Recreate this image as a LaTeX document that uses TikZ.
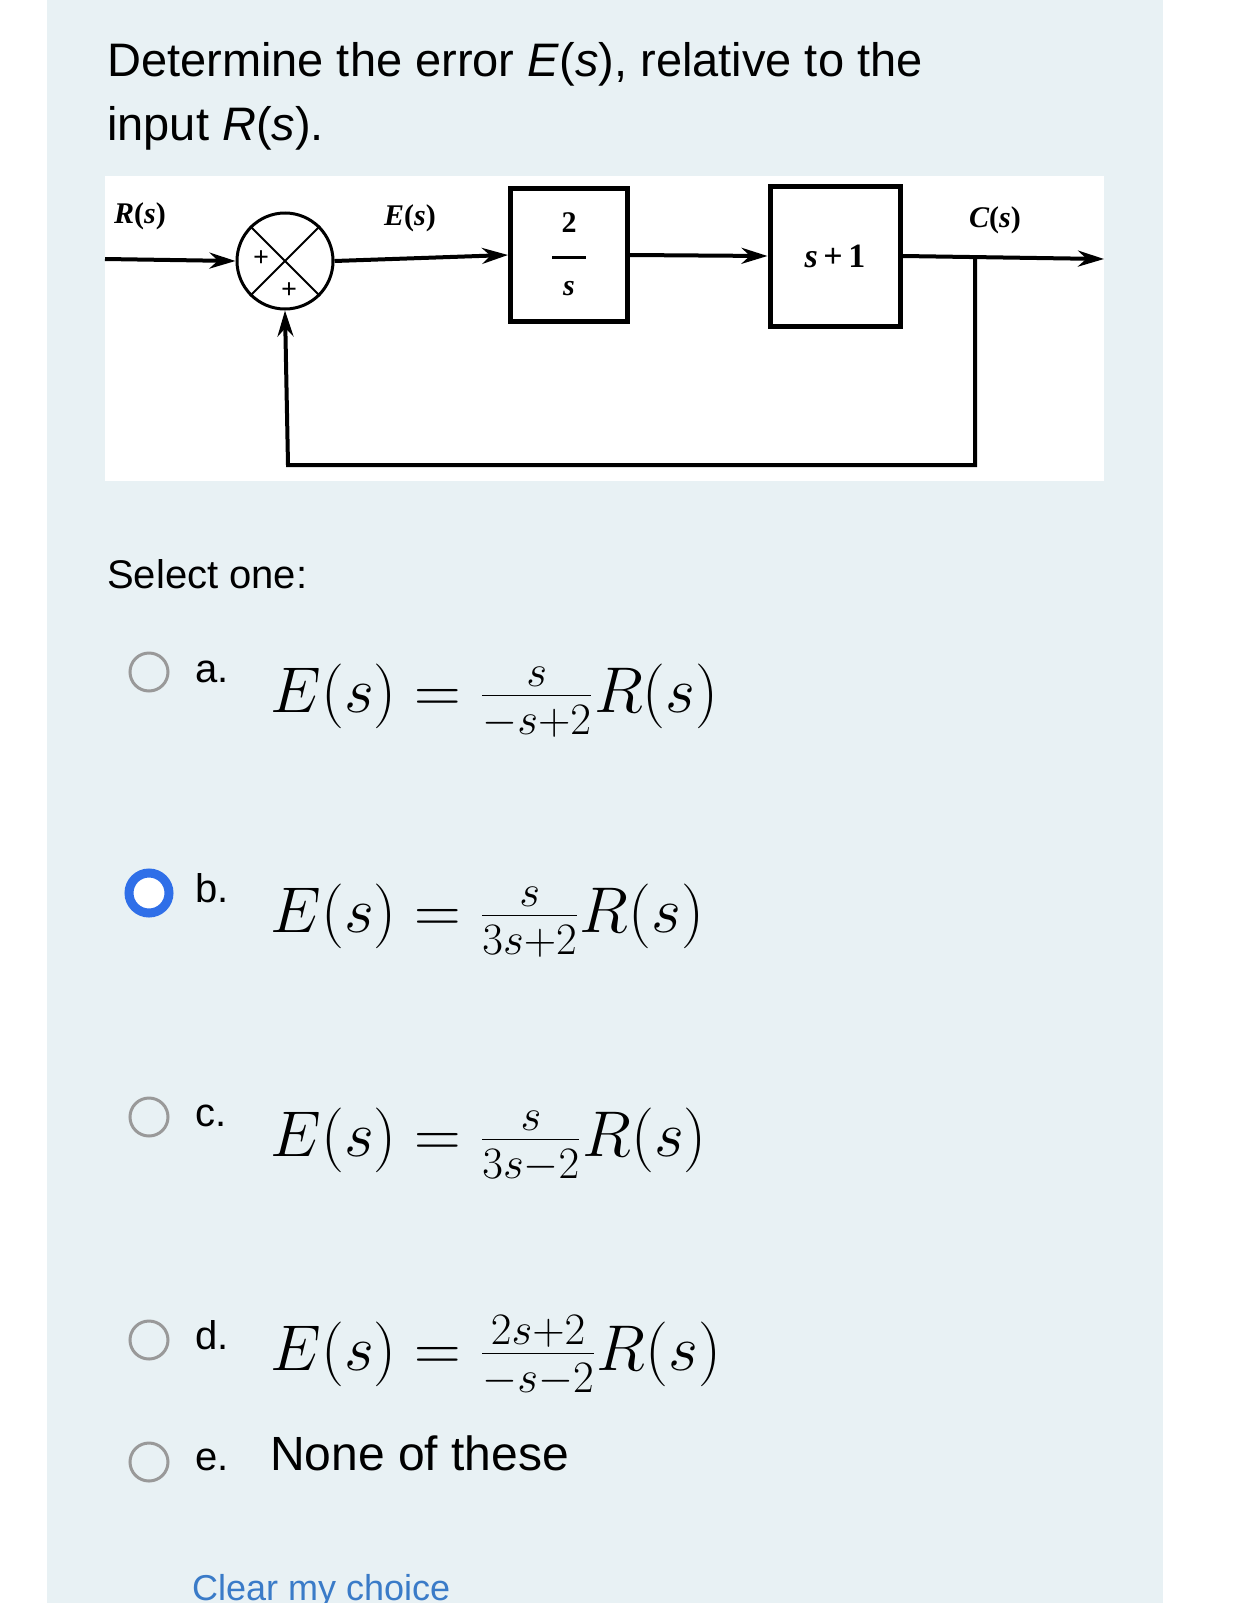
\documentclass[tikz,border=0pt]{standalone}
\usepackage{fontspec}
\setmainfont{Liberation Sans}
\newfontfamily\dserif{Liberation Serif}
\usetikzlibrary{arrows.meta}
\definecolor{panel}{HTML}{E8F1F4}
\definecolor{linkblue}{HTML}{3A7BC8}
\definecolor{selblue}{HTML}{2F6FE8}
\tikzset{
  wire/.style={line width=4pt},
  sig/.style={wire,-{Stealth[length=26pt,width=16pt]}},
  blk/.style={draw,line width=5pt,inner sep=0pt},
  dlab/.style={font=\dserif\bfseries\fontsize{30}{32}\selectfont,inner sep=0pt},
  radio/.style={circle,draw=gray!80,line width=3pt,minimum size=38pt,inner sep=0pt},
  opt/.style={anchor=base west,inner sep=0pt,font=\fontsize{40}{44}\selectfont},
  eq/.style={anchor=base west,inner sep=0pt,scale=2.6,transform shape,font=\fontsize{24}{28}\selectfont}
}
\begin{document}
\begin{tikzpicture}[x=1pt,y=-1pt]
\useasboundingbox (0,0) rectangle (1242,1603);
\clip (0,0) rectangle (1242,1603);
\fill[white] (0,0) rectangle (1242,1603);
\fill[panel] (47,0) rectangle (1163,1603);
\node[anchor=base west,inner sep=0pt,font=\fontsize{47}{60}\selectfont] (q1) at (107,77) {Determine the error \textit{E}(\textit{s}), relative to the};
\node[anchor=base west,inner sep=0pt,font=\fontsize{47}{60}\selectfont] (q2) at (107,140) {input \textit{R}(\textit{s}).};
% diagram
\fill[white] (105,176) rectangle (1104,481);
\coordinate (in) at (105,259);
\node[circle,draw,line width=3pt,minimum size=96pt,inner sep=0pt] (sum) at (285,261) {};
\draw[line width=2pt] (sum.north west) -- (sum.south east) (sum.north east) -- (sum.south west);
\node[font=\dserif\bfseries\fontsize{28}{28}\selectfont,inner sep=0pt] at (261,259) {+};
\node[font=\dserif\bfseries\fontsize{28}{28}\selectfont,inner sep=0pt] at (289,291) {+};
\node[blk,minimum width=117pt,minimum height=133pt] (g1) at (569,255) {};
\node[dlab] at (569,223) {2};
\draw[line width=3pt] (552,257) -- (586,257);
\node[dlab] at (569,289) {\itshape s};
\node[blk,minimum width=130pt,minimum height=140pt,font=\dserif\bfseries\fontsize{34}{34}\selectfont] (g2) at (835,256) {\itshape s\upshape\,+\,1};
\coordinate (out) at (1104,259);
\coordinate (br) at (975,259);
\coordinate (c1) at (975,465);
\coordinate (c2) at (288,465);
\draw[sig] (in) -- (sum.west);
\draw[sig] (sum.east) -- (g1.west);
\draw[sig] (g1.east) -- (g2.west);
\draw[sig] (g2.east) -- (out);
\draw[wire,-{Stealth[length=26pt,width=16pt]}] (br) -- (c1) -- (c2) -- (sum.south);
\node[dlab] at (140,216) {\itshape R\upshape(\itshape s\upshape)};
\node[dlab] at (410,218) {\itshape E\upshape(\itshape s\upshape)};
\node[dlab] at (995,220) {\itshape C\upshape(\itshape s\upshape)};
\node[anchor=base west,inner sep=0pt,font=\fontsize{40}{44}\selectfont] (sel) at (107,588) {Select one:};
% options
\node[radio] (ra) at (149,672) {};
\node[opt] (la) at (195,682) {a.};
\node[eq] (ea) at (270,712) {$E(s)=\frac{s}{-s+2}R(s)$};
\node[circle,draw=selblue,line width=9pt,minimum size=40pt,inner sep=0pt,fill=white] (rb) at (149,893) {};
\node[opt] (lb) at (195,902) {b.};
\node[eq] (eb) at (270,932) {$E(s)=\frac{s}{3s+2}R(s)$};
\node[radio] (rc) at (149,1117) {};
\node[opt] (lc) at (195,1126) {c.};
\node[eq] (ec) at (270,1156) {$E(s)=\frac{s}{3s-2}R(s)$};
\node[radio] (rd) at (149,1340) {};
\node[opt] (ld) at (195,1349) {d.};
\node[eq] (ed) at (270,1370) {$E(s)=\frac{2s+2}{-s-2}R(s)$};
\node[radio] (re) at (149,1462) {};
\node[opt] (le) at (195,1470) {e.};
\node[anchor=base west,inner sep=0pt,font=\fontsize{48}{52}\selectfont] (ee) at (270,1470) {None of these};
\node[anchor=base west,inner sep=0pt,font=\fontsize{36}{40}\selectfont,text=linkblue] (clr) at (192,1600) {Clear my choice};
\end{tikzpicture}
\end{document}
